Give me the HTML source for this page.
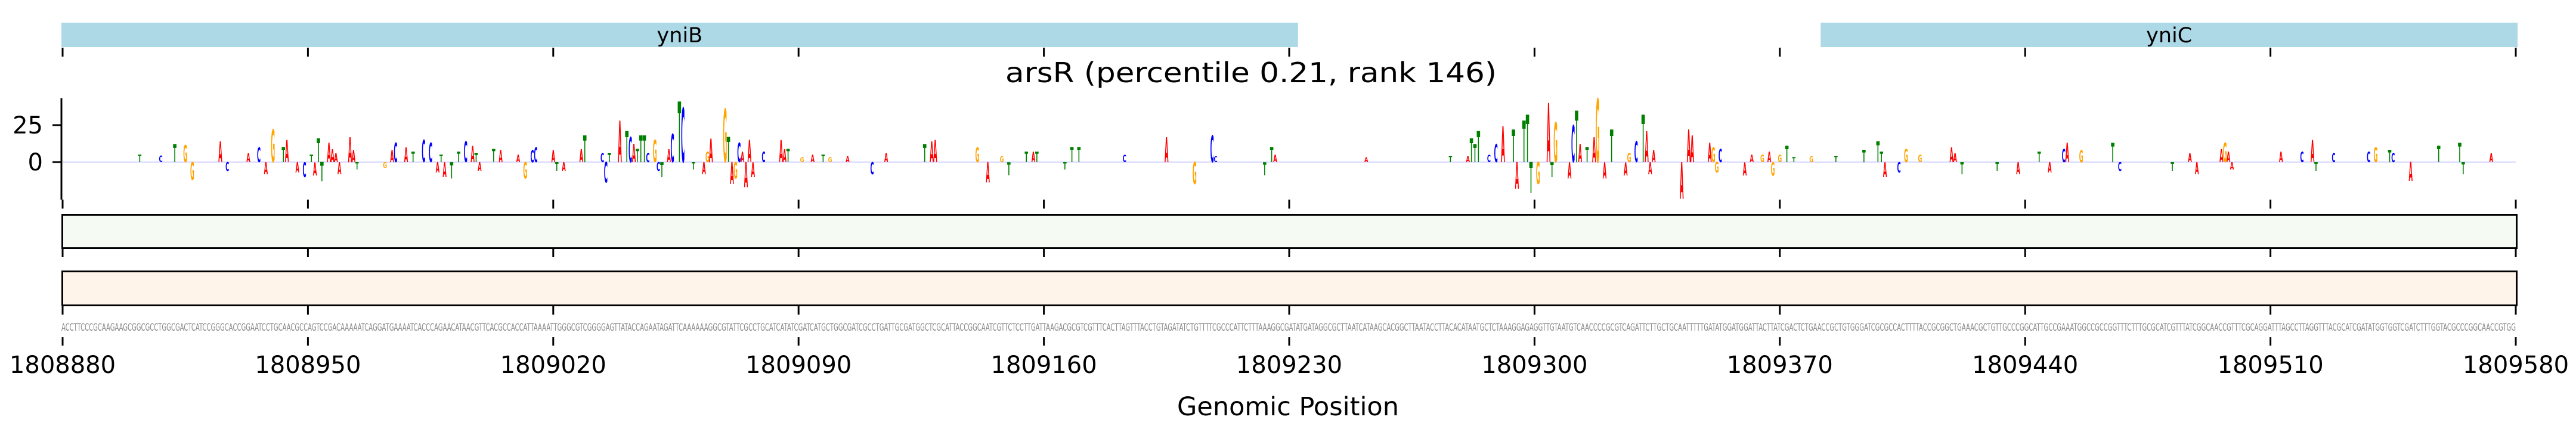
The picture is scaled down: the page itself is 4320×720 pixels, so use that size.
<!DOCTYPE html>
<html><head><meta charset="utf-8"><style>
html,body{margin:0;padding:0;background:#fff;}
svg{display:block;}
text{font-family:"DejaVu Sans","Liberation Sans",sans-serif;}
</style></head><body>
<svg id="chart" width="4320" height="720" viewBox="0 0 4320 720" xmlns="http://www.w3.org/2000/svg">
<g id="genes"></g>
<text x="2098" y="138" font-size="46" text-anchor="middle" textLength="824" lengthAdjust="spacingAndGlyphs">arsR (percentile 0.21, rank 146)</text>
<g id="logo"></g>
<rect x="104.5" y="360.5" width="4116" height="56" fill="#f5faf2" stroke="#000" stroke-width="3"/>
<rect x="104.5" y="455.5" width="4116" height="57" fill="#fef4ea" stroke="#000" stroke-width="3"/>
<g id="ticks"></g>
<text id="seq" x="103" y="555" font-size="17" fill="#888" font-family="Liberation Sans Narrow, Liberation Sans, sans-serif" lengthAdjust="spacingAndGlyphs" textLength="4116"></text>
<text x="2160" y="697" font-size="43" text-anchor="middle">Genomic Position</text>
</svg>
<script>
const startPos = 1808880;
const endPos = 1809580;
const xTickValues = [1808880,1808950,1809020,1809090,1809160,1809230,1809300,1809370,1809440,1809510,1809580];
const yTickValues = [0, 25];
const geneNames = ['yniB','yniC'];
const geneStarts = [1808880, 1809382];
const geneEnds = [1809232, 1809580];
const logoOffsets = [22,28,32,35,37,45,47,53,56,58,60,63,64,67,69,71,73,72,74,76,77,78,79,82,83,84,92,94,95,98,100,103,105,108,107,109,111,113,115,117,118,119,123,125,130,132,134,135,140,141,143,148,149,154,155,156,159,161,162,163,164,165,166,167,169,170,171,173,174,176,177,180,183,184,185,189,190,191,192,193,194,195,196,197,200,205,206,207,211,214,217,219,224,231,235,
246,248,249,261,264,268,270,275,277,278,286,288,290,303,315,323,328,329,343,345,346,372,396,401,402,403,404,407,409,411,414,415,417,418,419,421,424,425,426,430,431,432,433,435,437,438,440,442,446,447,449,451,452,453,454,462,464,465,470,471,472,473,
480,482,485,487,488,490,492,494,499,506,514,518,519,520,524,526,530,539,540,542,552,558,564,567,571,572,576,585,587,602,607,609,616,617,618,619,633,639,642,643,648,658,660,664,665,670,678,684,685,693];
const logoBases = "TCTGGACACAGTAACTTATAAAAAATGACATCCTAATTCATATAAGCCATAATCCTATCATTTCGCTACTCTAGAGTAGCAAAACAATGATGACATAAGAGTTATTTTCAGCCTTAATATTTCCATATTTGATGACTATAGATAGCTAAAAAAAGGCAAGAGGTTGTTTTACGGAATTATACAGTCTAAAGAAACATCCGTCATTTATACGATAGATACTTACGTTTGCAA";
const logoValues = [5,4.5,12,11.5,-12,14,-6,6,10,-8,22,10,15,-7,-10,5,16,-9,-13,13,9,6,-8,17,8,-5,-4,8,13,10,7,15,13,5,-7,-10,-11,7,14,11,6,-6,9,8,5,-11,8,10,8,-6,-6,9,18,6,-14,6,28,21,17,12,9,18,18,6,15,-6,-10,9,19,41,37,-5,-8,7,16,36,17,-15,-11,13,7,-17,15,-10,7,15,9,9,3,5,5,3,4,-8,6,
12,14,15,10,-14,4,-9,7,7,7,-5,10,10,5,17,-15,18,4,-9,10,5,3,4,4,16,12,21,5,12,24,22,-18,28,32,-21,-15,40,-10,27,-11,25,35,12,10,17,43,-11,22,-9,6,14,32,21,-8,8,-25,22,18,13,10,-7,9,
-9,5,5,7,-9,5,11,3,4,4,8,14,7,-10,-7,9,5,10,6,-8,-6,-8,7,-7,9,13,8,13,-6,-6,6,-8,9,13,7,-5,7,7,15,-6,6,7,10,8,6,-13,11,13,-8,6];
const sequence = "ACCTTCCCGCAAGAAGCGGCGCCTGGCGACTCATCCGGGCACCGGAATCCTGCAACGCCAGTCCGACAAAAATCAGGATGAAAATCACCCAGAACATAACGTTCACGCCACCATTAAAATTGGGCGTCGGGGAGTTATACCAGAATAGATTCAAAAAAGGCGTATTCGCCTGCATCATATCGATCATGCTGGCGATCGCCTGATTGCGATGGCTCGCATTACCGGCAATCGTTCTCCTTGATTAAGACGCGTCGTTTCACTTAGTTTACCTGTAGATATCTGTTTTCGCCCATTCTTTAAAGGCGATATGATAGGCGCTTAATCATAAGCACGGCTTAATACCTTACACATAATGCTCTAAAGGAGAGGTTGTAATGTCAACCCCGCGTCAGATTCTTGCTGCAATTTTTGATATGGATGGATTACTTATCGACTCTGAACCGCTGTGGGATCGCGCCACTTTTACCGCGGCTGAAACGCTGTTGCCCGGCATTGCCGAAATGGCCGCCGGTTTCTTTGCGCATCGTTTATCGGCAACCGTTTCGCAGGATTTAGCCTTAGGTTTACGCATCGATATGGTGGTCGATCTTTGGTACGCCCGGCAACCGTGG";

const NS = 'http://www.w3.org/2000/svg';
const x0 = 105, x1 = 4219;
const y0 = 272, pxPerUnit = 62 / 25;
function xScale(p){ return x0 + (p - startPos) / (endPos - startPos) * (x1 - x0); }
function yScale(v){ return y0 - v * pxPerUnit; }
function mk(tag, attrs, parent){ const e = document.createElementNS(NS, tag); for (const k in attrs) e.setAttribute(k, attrs[k]); parent.appendChild(e); return e; }
const colors = {A:'#ff0000', C:'#0000ff', G:'#ffa500', T:'#008000'};

const gG = document.getElementById('genes');
geneNames.forEach((n, i) => {
  const xa = xScale(geneStarts[i]) - 2, xb = xScale(geneEnds[i]) + 3;
  const r = mk('rect', {x: xa, y: 38, width: xb - xa, height: 41, fill: '#add8e6'}, gG);
  
  
  const t = mk('text', {x: (xa + xb) / 2, y: 71, 'font-size': 35, 'text-anchor': 'middle'}, gG);
  t.textContent = n;
  
  
});

const gT = document.getElementById('ticks');
const tickBands = [[80, 95], [335, 350], [417, 431], [514, 528], [566, 580]];
xTickValues.forEach(v => {
  const x = xScale(v);
  tickBands.forEach(b => {
    const l = mk('line', {x1: x, x2: x, y1: b[0], y2: b[1], stroke: '#000', 'stroke-width': 3}, gT);
    
    
  });
  const t = mk('text', {x: x, y: 626, 'font-size': 40, 'text-anchor': 'middle'}, gT);
  t.textContent = v;
  
  
});

const gL = document.getElementById('logo');
const sp = mk('line', {x1: 103, x2: 103, y1: 165, y2: 335, stroke: '#000', 'stroke-width': 3}, gL);


yTickValues.forEach(v => {
  const y = yScale(v);
  const l = mk('line', {x1: 88, x2: 103, y1: y, y2: y, stroke: '#000', 'stroke-width': 3}, gL);
  
  
  const t = mk('text', {x: 72, y: y + 14, 'font-size': 40, 'text-anchor': 'end'}, gL);
  t.textContent = v;
  
  
});
const bpW = (x1 - x0) / (endPos - startPos);
const base = mk('line', {x1: 105, x2: 4219, y1: y0, y2: y0, stroke: '#ccccff', 'stroke-width': 1.5}, gL);


logoOffsets.forEach((off, i) => {
  const v = logoValues[i];
  const b = logoBases[i] || 'A';
  const h = Math.abs(v) * pxPerUnit;
  const cx = xScale(startPos + off);
  const sy = h / 7.29, sx = (bpW * 0.95) / 6.67;
  const baseline = v >= 0 ? y0 : y0 + h;
  const t = mk('text', {transform: `translate(${cx},${baseline}) scale(${sx},${sy})`, 'font-size': 10, 'font-weight': 'bold', 'text-anchor': 'middle', fill: colors[b], 'font-family': 'Liberation Sans, sans-serif'}, gL);
  t.textContent = b;
  
  
});

document.getElementById('seq').textContent = sequence.slice(0, endPos - startPos);
</script>
</body></html>
